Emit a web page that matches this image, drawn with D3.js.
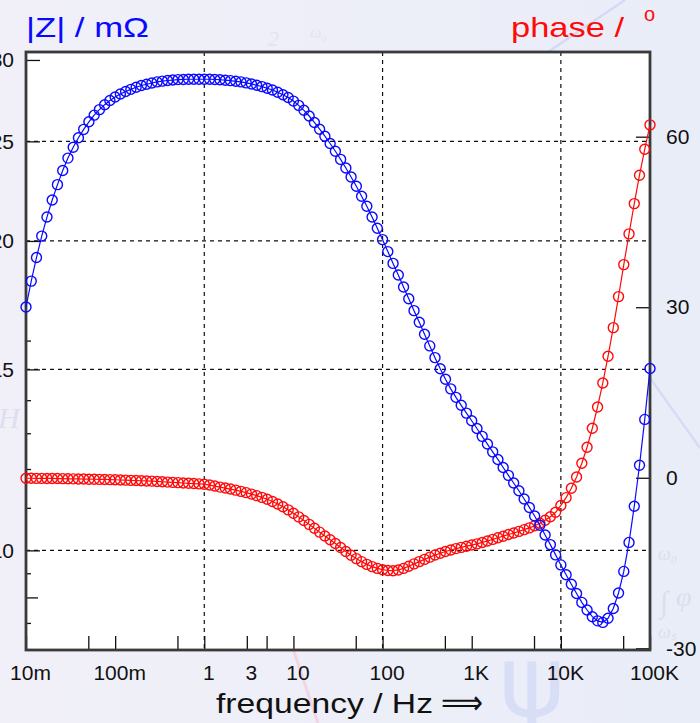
<!DOCTYPE html>
<html>
<head>
<meta charset="utf-8">
<script src="https://cdn.jsdelivr.net/npm/d3@7"></script>
<style>
  html, body { margin: 0; padding: 0; }
  body { width: 700px; height: 723px; overflow: hidden; }
  svg { display: block; font-family: "Liberation Sans", Arial, sans-serif; }
</style>
</head>
<body>
<svg id="chart" width="700" height="723"></svg>
<script>
// Sweep frequencies (Hz), 17 points per decade from 10 mHz to 100 kHz
const frequencyHz = [
  1e-2, 1.145e-2, 1.311e-2, 1.501e-2, 1.719e-2, 1.968e-2, 2.254e-2, 2.581e-2, 2.955e-2, 3.384e-2, 3.874e-2, 4.436e-2, 5.080e-2, 5.817e-2, 6.660e-2, 7.626e-2, 8.732e-2,
  1e-1, 1.145e-1, 1.311e-1, 1.501e-1, 1.719e-1, 1.968e-1, 2.254e-1, 2.581e-1, 2.955e-1, 3.384e-1, 3.874e-1, 4.436e-1, 5.080e-1, 5.817e-1, 6.660e-1, 7.626e-1, 8.732e-1,
  1e0, 1.145e0, 1.311e0, 1.501e0, 1.719e0, 1.968e0, 2.254e0, 2.581e0, 2.955e0, 3.384e0, 3.874e0, 4.436e0, 5.080e0, 5.817e0, 6.660e0, 7.626e0, 8.732e0,
  1e1, 1.145e1, 1.311e1, 1.501e1, 1.719e1, 1.968e1, 2.254e1, 2.581e1, 2.955e1, 3.384e1, 3.874e1, 4.436e1, 5.080e1, 5.817e1, 6.660e1, 7.626e1, 8.732e1,
  1e2, 1.145e2, 1.311e2, 1.501e2, 1.719e2, 1.968e2, 2.254e2, 2.581e2, 2.955e2, 3.384e2, 3.874e2, 4.436e2, 5.080e2, 5.817e2, 6.660e2, 7.626e2, 8.732e2,
  1e3, 1.145e3, 1.311e3, 1.501e3, 1.719e3, 1.968e3, 2.254e3, 2.581e3, 2.955e3, 3.384e3, 3.874e3, 4.436e3, 5.080e3, 5.817e3, 6.660e3, 7.626e3, 8.732e3,
  1e4, 1.145e4, 1.311e4, 1.501e4, 1.719e4, 1.968e4, 2.254e4, 2.581e4, 2.955e4, 3.384e4, 3.874e4, 4.436e4, 5.080e4, 5.817e4, 6.660e4, 7.626e4, 8.732e4,
  1e5
];

// Impedance magnitude |Z| in milliohm
const impedanceMilliOhm = [
  17.25, 18.28, 19.27, 20.22, 21.10, 21.92, 22.69, 23.42, 24.08, 24.67, 25.20, 25.68, 26.12, 26.51, 26.84, 27.14, 27.40,
  27.61, 27.80, 27.95, 28.09, 28.22, 28.33, 28.41, 28.49, 28.56, 28.61, 28.65, 28.68, 28.71, 28.72, 28.73, 28.73, 28.73,
  28.73, 28.73, 28.72, 28.70, 28.67, 28.64, 28.60, 28.56, 28.50, 28.43, 28.35, 28.26, 28.16, 28.05, 27.91, 27.75, 27.58,
  27.36, 27.10, 26.80, 26.46, 26.08, 25.69, 25.29, 24.88, 24.45, 24.01, 23.55, 23.08, 22.61, 22.11, 21.62, 21.10, 20.58,
  20.06, 19.53, 19.02, 18.53, 18.04, 17.57, 17.11, 16.67, 16.23, 15.81, 15.40, 15.02, 14.67, 14.36, 14.09, 13.84, 13.60,
  13.37, 13.14, 12.91, 12.69, 12.47, 12.26, 12.04, 11.83, 11.63, 11.43, 11.22, 11.01, 10.80, 10.58, 10.35, 10.13, 9.90,
  9.68, 9.47, 9.27, 9.08, 8.90, 8.75, 8.62, 8.54, 8.51, 8.59, 8.78, 9.09, 9.54, 10.18, 11.04, 12.10, 13.41,
  15.03
];

// Phase in degrees
const phaseDeg = [
  -0.09, -0.09, -0.11, -0.11, -0.12, -0.12, -0.14, -0.16, -0.18, -0.19, -0.21, -0.23, -0.25, -0.26, -0.28, -0.30, -0.33,
  -0.35, -0.39, -0.42, -0.46, -0.49, -0.53, -0.56, -0.60, -0.65, -0.70, -0.76, -0.81, -0.86, -0.92, -0.97, -1.02, -1.07,
  -1.13, -1.28, -1.46, -1.64, -1.81, -1.99, -2.18, -2.39, -2.62, -2.87, -3.15, -3.45, -3.78, -4.17, -4.61, -5.10, -5.65,
  -6.25, -6.88, -7.53, -8.20, -8.89, -9.57, -10.24, -10.91, -11.56, -12.26, -12.97, -13.62, -14.22, -14.76, -15.24, -15.63, -15.94,
  -16.17, -16.31, -16.35, -16.22, -15.94, -15.56, -15.15, -14.75, -14.36, -13.97, -13.60, -13.27, -12.97, -12.70, -12.46, -12.25, -12.04,
  -11.84, -11.63, -11.38, -11.12, -10.84, -10.56, -10.28, -9.99, -9.71, -9.43, -9.13, -8.82, -8.45, -8.01, -7.48, -6.85, -6.07,
  -4.87, -3.50, -1.85, 0.14, 2.55, 5.37, 8.71, 12.46, 16.68, 21.38, 26.41, 31.87, 37.50, 42.90, 48.23, 53.23, 57.80,
  62.08
];

// Axis ticks and labels
const xTickValues = [0.01, 0.1, 1, 3, 10, 100, 1e3, 1e4, 1e5];
const xTickLabels = ["10m", "100m", "1", "3", "10", "100", "1K", "10K", "100K"];
const xMinorTicks = [0.05, 0.5, 5, 50, 500, 5e3, 5e4];
const xGridValues = [1, 100, 1e4];

const zTickValues = [30, 25, 20, 15, 10];
const zTickLabels = ["30", "25", "20", "15", "10"];
const zMinorTicks = [16, 14, 13, 12, 11, 9.5, 8.5];
const zMidTicks = [9];
const zGridValues = [25, 20, 15, 10];

const phaseTickValues = [60, 30, 0, -30];
const phaseTickLabels = ["60", "30", "0", "-30"];

const blue = "#0a0aff";
const red = "#ff0a0a";

const svg = d3.select("#chart");
const L = 26, R = 650, T = 52, B = 650;

const x = d3.scaleLog().domain([0.01, 1e5]).range([L, R]);
const yZ = d3.scaleLog().domain([8, 30.54]).range([B, T]);
const yP = d3.scaleLinear().domain([-30.3, 74.9]).range([B, T]);

// page background
const defs = svg.append("defs");
const bg = defs.append("linearGradient").attr("id", "bg").attr("x1", "0").attr("x2", "1").attr("y1", "0").attr("y2", "0");
bg.append("stop").attr("offset", "0").attr("stop-color", "#f1f0f8");
bg.append("stop").attr("offset", "1").attr("stop-color", "#e9edf8");
svg.append("rect").attr("width", 700).attr("height", 723).attr("fill", "url(#bg)");

// faint decorative formula glyphs behind the chart
const deco = svg.append("g").attr("pointer-events", "none");
deco.append("line").attr("x1", 290).attr("y1", 640).attr("x2", 318).attr("y2", 723)
  .attr("stroke", "#f3d4e2").attr("stroke-width", 3);
deco.append("line").attr("x1", 545).attr("y1", 54).attr("x2", 625).attr("y2", 0)
  .attr("stroke", "#d3daf6").attr("stroke-width", 2.5);
deco.append("line").attr("x1", 650).attr("y1", 378).attr("x2", 700).attr("y2", 448)
  .attr("stroke", "#d6dcf5").attr("stroke-width", 2.5);
deco.append("text").attr("x", 532).attr("y", 716).attr("text-anchor", "middle")
  .attr("font-family", "DejaVu Sans").attr("font-size", 100).attr("fill", "#d9def7").text("ψ");
deco.append("text").attr("x", -2).attr("y", 428).attr("font-family", "Liberation Serif")
  .attr("font-style", "italic").attr("font-size", 30).attr("fill", "#dcdfef").text("H");
deco.append("text").attr("x", 658).attr("y", 560).attr("font-family", "Liberation Serif")
  .attr("font-style", "italic").attr("font-size", 18).attr("fill", "#dadeef").text("ω₀");
deco.append("text").attr("x", 660).attr("y", 612).attr("font-family", "Liberation Serif")
  .attr("font-size", 30).attr("fill", "#dadeef").text("∫");
deco.append("text").attr("x", 676).attr("y", 606).attr("font-family", "Liberation Serif")
  .attr("font-style", "italic").attr("font-size", 28).attr("fill", "#dadeef").text("φ");
deco.append("text").attr("x", 658).attr("y", 638).attr("font-family", "Liberation Serif")
  .attr("font-style", "italic").attr("font-size", 18).attr("fill", "#dadeef").text("ωₛ");
deco.append("text").attr("x", 268).attr("y", 46).attr("font-family", "Liberation Serif")
  .attr("font-style", "italic").attr("font-size", 22).attr("fill", "#e3e4f2").text("2");
deco.append("text").attr("x", 310).attr("y", 38).attr("font-family", "Liberation Serif")
  .attr("font-style", "italic").attr("font-size", 16).attr("fill", "#e3e4f2").text("ω₀");

// plot area
svg.append("rect").attr("x", L).attr("y", T).attr("width", R - L).attr("height", B - T).attr("fill", "#ffffff");

// dashed grid
const grid = svg.append("g").attr("stroke", "#111").attr("stroke-width", 1.2).attr("stroke-dasharray", "4,4");
grid.selectAll("line.v").data(xGridValues).join("line").attr("class", "v")
  .attr("x1", d => x(d)).attr("x2", d => x(d)).attr("y1", T).attr("y2", B);
grid.selectAll("line.h").data(zGridValues).join("line").attr("class", "h")
  .attr("x1", L).attr("x2", R).attr("y1", d => yZ(d)).attr("y2", d => yZ(d));

function styleAxis(g) {
  g.select(".domain").remove();
  g.selectAll(".tick line").attr("stroke", "#111").attr("stroke-width", 1.3);
  g.selectAll(".tick text").attr("fill", "#111").attr("font-size", 21)
    .attr("font-family", "Liberation Sans, Arial, sans-serif");
}

// bottom axis (ticks point inwards)
svg.append("g").attr("transform", `translate(0,${B})`)
  .call(d3.axisBottom(x).tickValues(xTickValues).tickSize(-14).tickPadding(15)
    .tickFormat((d, i) => xTickLabels[i]))
  .call(styleAxis)
  .call(g => g.selectAll(".tick text").attr("dx", 4));
svg.append("g").attr("transform", `translate(0,${B})`)
  .call(d3.axisBottom(x).tickValues(xMinorTicks).tickSize(-14).tickFormat(""))
  .call(styleAxis);

// left axis |Z| (log); labels run past the page edge
svg.append("g").attr("transform", `translate(${L},0)`)
  .call(d3.axisLeft(yZ).tickValues(zTickValues).tickSize(-14).tickPadding(12)
    .tickFormat((d, i) => zTickLabels[i]))
  .call(styleAxis);
svg.append("g").attr("transform", `translate(${L},0)`)
  .call(d3.axisLeft(yZ).tickValues(zMinorTicks).tickSize(-5).tickFormat(""))
  .call(styleAxis);
svg.append("g").attr("transform", `translate(${L},0)`)
  .call(d3.axisLeft(yZ).tickValues(zMidTicks).tickSize(-12).tickFormat(""))
  .call(styleAxis);

// right axis phase
svg.append("g").attr("transform", `translate(${R},0)`)
  .call(d3.axisRight(yP).tickValues(phaseTickValues).tickSize(-14).tickPadding(16)
    .tickFormat((d, i) => phaseTickLabels[i]))
  .call(styleAxis);

// frame
svg.append("rect").attr("x", L).attr("y", T).attr("width", R - L).attr("height", B - T)
  .attr("fill", "none").attr("stroke", "#3a3a3a").attr("stroke-width", 2.8);

// series
const pts = frequencyHz.map((f, i) => ({ f, z: impedanceMilliOhm[i], p: phaseDeg[i] }));

function drawSeries(yScale, key, color) {
  const g = svg.append("g");
  g.append("path").datum(pts)
    .attr("fill", "none").attr("stroke", color).attr("stroke-width", 1.2)
    .attr("d", d3.line().x(d => x(d.f)).y(d => yScale(d[key])));
  g.selectAll("circle").data(pts).join("circle")
    .attr("cx", d => x(d.f)).attr("cy", d => yScale(d[key])).attr("r", 5)
    .attr("fill", "none").attr("stroke", color).attr("stroke-width", 1.4);
}
drawSeries(yP, "p", red);
drawSeries(yZ, "z", blue);

// titles
svg.append("text").attr("x", 26).attr("y", 37).attr("font-size", 28).attr("fill", blue)
  .attr("textLength", 123).attr("lengthAdjust", "spacingAndGlyphs").text("|Z| / mΩ");
svg.append("text").attr("x", 511).attr("y", 37).attr("font-size", 28).attr("fill", red)
  .attr("textLength", 113).attr("lengthAdjust", "spacingAndGlyphs").text("phase /");
svg.append("text").attr("x", 644).attr("y", 21).attr("font-size", 20).attr("fill", red).text("o");

// x axis label
svg.append("text").attr("x", 216).attr("y", 713).attr("font-size", 28).attr("fill", "#111")
  .attr("textLength", 217).attr("lengthAdjust", "spacingAndGlyphs").text("frequency / Hz");
svg.append("text").attr("x", 441).attr("y", 714).attr("font-size", 34).attr("fill", "#111")
  .attr("font-family", "DejaVu Sans")
  .attr("textLength", 42).attr("lengthAdjust", "spacingAndGlyphs").text("⟹");
</script>
</body>
</html>
